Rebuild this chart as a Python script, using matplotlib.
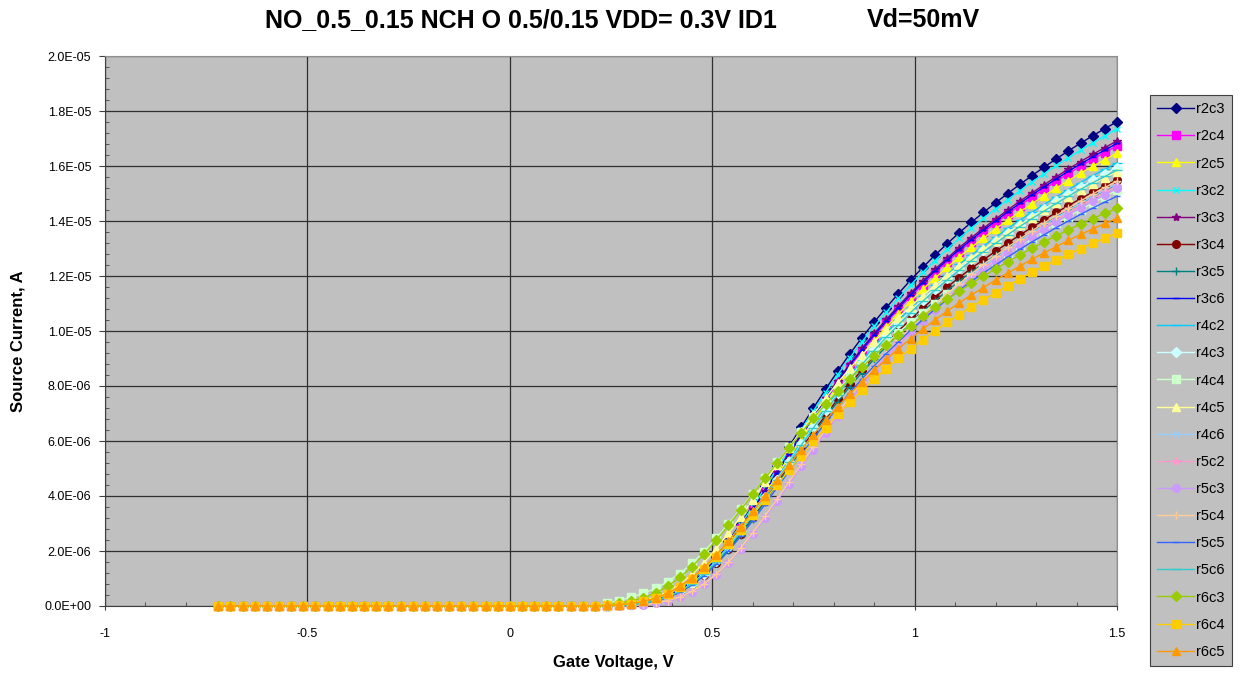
import numpy as np
import matplotlib.pyplot as plt
from matplotlib.ticker import MultipleLocator, FuncFormatter

# gate sweep -0.72 V .. 1.5 V, 30 mV steps
vg = np.round(np.linspace(-0.72, 1.5, 75), 2)

# source current in uA; below 0.24 V every device reads zero
i_off = [0.0, 0.0, 0.0, 0.0, 0.0, 0.0, 0.0, 0.0, 0.0, 0.0, 0.0, 0.0, 0.0, 0.0, 0.0, 0.0,
         0.0, 0.0, 0.0, 0.0, 0.0, 0.0, 0.0, 0.0, 0.0, 0.0, 0.0, 0.0, 0.0, 0.0, 0.0, 0.0]

# 0.24 V .. 1.50 V
r2c3 = [0.01, 0.03, 0.06, 0.12, 0.22, 0.37, 0.59, 0.90, 1.30, 1.79, 2.36, 2.99, 3.66, 4.36, 5.08,
        5.80, 6.50, 7.20, 7.88, 8.54, 9.17, 9.76, 10.32, 10.85, 11.36, 11.85, 12.31, 12.75, 13.17,
        13.57, 13.95, 14.31, 14.66, 15.00, 15.33, 15.65, 15.96, 16.26, 16.55, 16.83, 17.10, 17.36, 17.61]
r2c4 = [0.01, 0.03, 0.06, 0.11, 0.21, 0.35, 0.56, 0.86, 1.24, 1.70, 2.24, 2.84, 3.48, 4.14, 4.83,
        5.51, 6.18, 6.84, 7.49, 8.11, 8.71, 9.27, 9.80, 10.31, 10.79, 11.26, 11.69, 12.11, 12.51,
        12.89, 13.25, 13.59, 13.93, 14.25, 14.56, 14.87, 15.16, 15.45, 15.72, 15.99, 16.25, 16.49, 16.73]
r2c5 = [0.01, 0.03, 0.06, 0.11, 0.21, 0.35, 0.55, 0.84, 1.22, 1.67, 2.21, 2.80, 3.42, 4.08, 4.75,
        5.42, 6.08, 6.73, 7.37, 7.98, 8.57, 9.13, 9.65, 10.14, 10.62, 11.08, 11.51, 11.92, 12.31,
        12.69, 13.04, 13.38, 13.71, 14.03, 14.33, 14.63, 14.92, 15.20, 15.47, 15.74, 15.99, 16.23, 16.47]
r3c2 = [0.01, 0.03, 0.06, 0.12, 0.22, 0.36, 0.58, 0.89, 1.28, 1.76, 2.32, 2.95, 3.61, 4.29, 5.00,
        5.71, 6.40, 7.09, 7.76, 8.41, 9.03, 9.61, 10.17, 10.69, 11.19, 11.67, 12.13, 12.56, 12.97,
        13.37, 13.74, 14.10, 14.44, 14.78, 15.10, 15.42, 15.72, 16.02, 16.30, 16.58, 16.84, 17.10, 17.35]
r3c3 = [0.01, 0.03, 0.06, 0.12, 0.21, 0.36, 0.57, 0.86, 1.25, 1.72, 2.27, 2.87, 3.51, 4.19, 4.88,
        5.57, 6.24, 6.91, 7.56, 8.20, 8.80, 9.37, 9.91, 10.42, 10.91, 11.38, 11.82, 12.24, 12.64,
        13.03, 13.39, 13.74, 14.07, 14.40, 14.72, 15.02, 15.32, 15.61, 15.89, 16.16, 16.42, 16.67, 16.91]
r3c4 = [0.01, 0.03, 0.05, 0.11, 0.19, 0.33, 0.52, 0.79, 1.14, 1.58, 2.08, 2.63, 3.22, 3.84, 4.47,
        5.10, 5.72, 6.34, 6.93, 7.52, 8.07, 8.59, 9.08, 9.55, 10.00, 10.43, 10.83, 11.22, 11.59,
        11.94, 12.28, 12.59, 12.90, 13.20, 13.49, 13.77, 14.04, 14.31, 14.56, 14.81, 15.05, 15.28, 15.50]
r3c5 = [0.01, 0.03, 0.05, 0.10, 0.19, 0.32, 0.51, 0.78, 1.13, 1.56, 2.05, 2.60, 3.18, 3.79, 4.42,
        5.05, 5.66, 6.26, 6.86, 7.43, 7.98, 8.49, 8.98, 9.44, 9.88, 10.31, 10.71, 11.09, 11.46,
        11.81, 12.14, 12.45, 12.75, 13.05, 13.34, 13.62, 13.89, 14.15, 14.40, 14.64, 14.88, 15.10, 15.32]
r3c6 = [0.01, 0.03, 0.06, 0.11, 0.21, 0.35, 0.56, 0.86, 1.24, 1.71, 2.25, 2.86, 3.50, 4.16, 4.85,
        5.54, 6.21, 6.88, 7.53, 8.16, 8.76, 9.32, 9.86, 10.36, 10.85, 11.32, 11.76, 12.18, 12.58,
        12.96, 13.32, 13.67, 14.00, 14.33, 14.64, 14.95, 15.24, 15.53, 15.81, 16.07, 16.33, 16.58, 16.82]
r4c2 = [0.01, 0.03, 0.05, 0.11, 0.20, 0.34, 0.54, 0.82, 1.19, 1.64, 2.16, 2.74, 3.35, 3.99, 4.65,
        5.31, 5.95, 6.59, 7.21, 7.81, 8.39, 8.93, 9.44, 9.93, 10.39, 10.84, 11.26, 11.67, 12.05,
        12.42, 12.76, 13.09, 13.41, 13.73, 14.03, 14.32, 14.60, 14.88, 15.14, 15.40, 15.65, 15.88, 16.11]
r4c3 = [0.01, 0.03, 0.05, 0.11, 0.20, 0.33, 0.53, 0.81, 1.18, 1.62, 2.14, 2.71, 3.31, 3.95, 4.60,
        5.25, 5.88, 6.52, 7.13, 7.73, 8.30, 8.83, 9.34, 9.82, 10.28, 10.72, 11.14, 11.54, 11.92,
        12.28, 12.62, 12.95, 13.27, 13.58, 13.87, 14.16, 14.44, 14.72, 14.98, 15.23, 15.48, 15.71, 15.94]
r4c4 = [0.10, 0.20, 0.32, 0.46, 0.64, 0.88, 1.18, 1.55, 1.98, 2.46, 2.98, 3.52, 4.08, 4.65, 5.22,
        5.78, 6.33, 6.87, 7.38, 7.86, 8.32, 8.76, 9.17, 9.56, 9.94, 10.31, 10.66, 11.00, 11.33,
        11.65, 11.96, 12.26, 12.55, 12.84, 13.12, 13.39, 13.65, 13.91, 14.16, 14.41, 14.65, 14.89, 15.12]
r4c5 = [0.03, 0.05, 0.11, 0.19, 0.33, 0.52, 0.80, 1.15, 1.58, 2.09, 2.65, 3.24, 3.86, 4.50, 5.13,
        5.75, 6.37, 6.97, 7.56, 8.12, 8.64, 9.13, 9.60, 10.05, 10.49, 10.89, 11.28, 11.66, 12.01,
        12.35, 12.66, 12.97, 13.28, 13.57, 13.85, 14.12, 14.39, 14.65, 14.89, 15.13, 15.36, 15.58, 15.80]
r4c6 = [0.00, 0.01, 0.03, 0.05, 0.11, 0.19, 0.33, 0.52, 0.80, 1.15, 1.58, 2.09, 2.65, 3.24, 3.86,
        4.50, 5.13, 5.75, 6.37, 6.97, 7.56, 8.12, 8.64, 9.13, 9.60, 10.05, 10.49, 10.89, 11.28,
        11.66, 12.01, 12.35, 12.66, 12.97, 13.28, 13.57, 13.85, 14.12, 14.39, 14.65, 14.89, 15.13, 15.36]
r5c2 = [0.00, 0.01, 0.03, 0.05, 0.11, 0.19, 0.33, 0.52, 0.79, 1.14, 1.58, 2.08, 2.63, 3.22, 3.84,
        4.47, 5.10, 5.72, 6.34, 6.93, 7.52, 8.07, 8.59, 9.08, 9.55, 10.00, 10.43, 10.83, 11.22,
        11.59, 11.94, 12.28, 12.59, 12.90, 13.20, 13.49, 13.77, 14.04, 14.31, 14.56, 14.81, 15.05, 15.28]
r5c3 = [0.00, 0.01, 0.03, 0.05, 0.11, 0.19, 0.32, 0.52, 0.79, 1.14, 1.57, 2.07, 2.62, 3.20, 3.82,
        4.45, 5.08, 5.69, 6.30, 6.90, 7.47, 8.02, 8.54, 9.03, 9.49, 9.94, 10.37, 10.77, 11.16,
        11.52, 11.87, 12.21, 12.52, 12.83, 13.13, 13.41, 13.69, 13.97, 14.23, 14.48, 14.73, 14.96, 15.19]
r5c4 = [0.00, 0.01, 0.03, 0.05, 0.11, 0.20, 0.33, 0.53, 0.80, 1.16, 1.59, 2.10, 2.66, 3.26, 3.88,
        4.52, 5.16, 5.79, 6.41, 7.01, 7.60, 8.16, 8.69, 9.18, 9.66, 10.11, 10.55, 10.96, 11.35,
        11.72, 12.08, 12.42, 12.74, 13.05, 13.35, 13.64, 13.93, 14.20, 14.47, 14.73, 14.98, 15.22, 15.45]
r5c5 = [0.01, 0.03, 0.05, 0.10, 0.19, 0.31, 0.50, 0.76, 1.10, 1.51, 2.00, 2.53, 3.10, 3.69, 4.30,
        4.91, 5.50, 6.09, 6.67, 7.22, 7.76, 8.26, 8.73, 9.18, 9.61, 10.03, 10.41, 10.79, 11.14,
        11.48, 11.80, 12.11, 12.40, 12.69, 12.97, 13.24, 13.50, 13.76, 14.00, 14.24, 14.47, 14.69, 14.90]
r5c6 = [0.01, 0.03, 0.05, 0.11, 0.20, 0.33, 0.53, 0.81, 1.17, 1.61, 2.12, 2.69, 3.29, 3.92, 4.57,
        5.22, 5.85, 6.48, 7.09, 7.69, 8.25, 8.78, 9.29, 9.77, 10.22, 10.67, 11.08, 11.48, 11.85,
        12.21, 12.56, 12.88, 13.19, 13.50, 13.80, 14.09, 14.36, 14.64, 14.90, 15.15, 15.39, 15.62, 15.85]
r6c3 = [0.05, 0.10, 0.18, 0.30, 0.47, 0.72, 1.04, 1.43, 1.89, 2.39, 2.93, 3.49, 4.06, 4.64, 5.20,
        5.76, 6.30, 6.83, 7.34, 7.81, 8.26, 8.68, 9.09, 9.48, 9.85, 10.20, 10.54, 10.86, 11.16,
        11.45, 11.73, 12.00, 12.26, 12.52, 12.77, 13.01, 13.24, 13.46, 13.68, 13.89, 14.09, 14.28, 14.46]
r6c4 = [0.02, 0.05, 0.09, 0.17, 0.28, 0.45, 0.68, 0.99, 1.36, 1.79, 2.27, 2.78, 3.31, 3.86, 4.41,
        4.94, 5.47, 5.99, 6.49, 6.97, 7.42, 7.84, 8.25, 8.63, 9.01, 9.36, 9.69, 10.01, 10.31,
        10.60, 10.88, 11.14, 11.40, 11.65, 11.89, 12.13, 12.36, 12.58, 12.79, 13.00, 13.19, 13.38, 13.57]
r6c5 = [0.02, 0.05, 0.09, 0.17, 0.29, 0.47, 0.71, 1.03, 1.41, 1.86, 2.36, 2.89, 3.44, 4.01, 4.58,
        5.14, 5.69, 6.23, 6.75, 7.24, 7.71, 8.15, 8.57, 8.97, 9.36, 9.72, 10.07, 10.40, 10.72,
        11.02, 11.31, 11.58, 11.85, 12.11, 12.36, 12.61, 12.84, 13.07, 13.30, 13.51, 13.71, 13.91, 14.10]

names = ['r2c3', 'r2c4', 'r2c5', 'r3c2', 'r3c3', 'r3c4', 'r3c5', 'r3c6', 'r4c2', 'r4c3', 'r4c4',
         'r4c5', 'r4c6', 'r5c2', 'r5c3', 'r5c4', 'r5c5', 'r5c6', 'r6c3', 'r6c4', 'r6c5']
series = [r2c3, r2c4, r2c5, r3c2, r3c3, r3c4, r3c5, r3c6, r4c2, r4c3, r4c4,
          r4c5, r4c6, r5c2, r5c3, r5c4, r5c5, r5c6, r6c3, r6c4, r6c5]

# old Excel default palette / marker cycle
colors = ['#000080', '#FF00FF', '#FFFF00', '#00FFFF', '#800080', '#800000', '#008080', '#0000FF',
          '#00CCFF', '#CCFFFF', '#CCFFCC', '#FFFF99', '#99CCFF', '#FF99CC', '#CC99FF', '#FFCC99',
          '#3366FF', '#33CCCC', '#99CC00', '#FFCC00', '#FF9900']
mk_cycle = [('D', 5), ('s', 5.5), ('^', 6), ('x', 5), ('*', 6), ('o', 5.5), ('+', 6), ('_', 4), ('_', 7)]

plt.rcParams['font.family'] = ['Liberation Sans', 'DejaVu Sans']

fig = plt.figure(figsize=(12.39, 6.77), dpi=100)
ax = fig.add_axes([105 / 1239, 1 - 606 / 677, 1012 / 1239, 550 / 677])
ax.set_facecolor('#C0C0C0')

for k, (nm, vals) in enumerate(zip(names, series)):
    m, ms = mk_cycle[k % len(mk_cycle)]
    y = np.array(i_off + vals) * 1e-6
    ax.plot(vg, y, color=colors[k], lw=1.0, marker=m, markersize=ms,
            markerfacecolor=colors[k], markeredgecolor=colors[k], markeredgewidth=1.0,
            label=nm, clip_on=False, zorder=3 + k * 0.01)

ax.set_xlim(-1, 1.5)
ax.set_ylim(0, 2e-5)
ax.xaxis.set_major_locator(MultipleLocator(0.5))
ax.xaxis.set_minor_locator(MultipleLocator(0.1))
ax.yaxis.set_major_locator(MultipleLocator(2e-6))
ax.yaxis.set_minor_locator(MultipleLocator(4e-7))
ax.xaxis.set_major_formatter(FuncFormatter(lambda v, p: '%g' % v))
ax.yaxis.set_major_formatter(FuncFormatter(lambda v, p: '%.1E' % v))
ax.tick_params(axis='both', which='major', labelsize=9, length=4, color='#404040', pad=6)
ax.tick_params(axis='x', which='major', direction='inout', length=6, pad=13)
ax.tick_params(axis='both', which='minor', direction='in', length=3, color='#404040')
ax.grid(True, which='major', color='#303030', lw=0.9)
ax.set_axisbelow(True)
for s in ['top', 'right']:
    ax.spines[s].set_color('#909090')
for s in ['left', 'bottom']:
    ax.spines[s].set_color('#404040')

ax.set_xlabel('Gate Voltage, V', fontsize=12, fontweight='bold')
ax.xaxis.set_label_coords(0.502, -0.089)
ax.set_ylabel('Source Current, A', fontsize=12, fontweight='bold')
ax.yaxis.set_label_coords(-0.079, 0.482)

fig.text(521 / 1239, 1 - 20 / 677, 'NO_0.5_0.15 NCH O 0.5/0.15 VDD= 0.3V ID1',
         ha='center', va='center', fontsize=18, fontweight='bold')
fig.text(923 / 1239, 1 - 20 / 677, 'Vd=50mV',
         ha='center', va='center', fontsize=18, fontweight='bold')

leg = ax.legend(loc='upper left', bbox_to_anchor=(1150 / 1239, 1 - 95 / 677),
                bbox_transform=fig.transFigure, fontsize=10.5, frameon=True, fancybox=False,
                framealpha=1, facecolor='#C0C0C0', edgecolor='#404040', numpoints=1,
                handlelength=2.5, handletextpad=0.15, labelspacing=0.9, borderpad=0.5,
                borderaxespad=0)
leg.get_frame().set_linewidth(0.8)

fig.savefig('out.png', dpi=100)
